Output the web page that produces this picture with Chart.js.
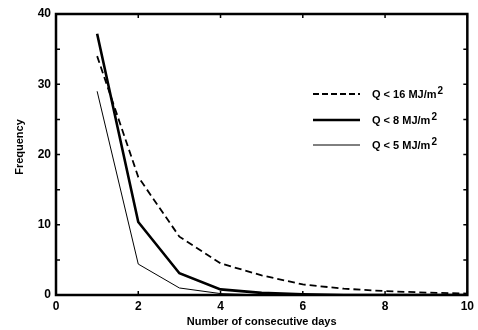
<!DOCTYPE html>
<html>
<head>
<meta charset="utf-8">
<script src="https://cdn.jsdelivr.net/npm/chart.js@4/dist/chart.umd.min.js"></script>
<style>
html,body{margin:0;padding:0;background:#fff;}
#c{display:block;}
</style>
</head>
<body>
<canvas id="c" width="478" height="330"></canvas>
<script>
const days = [1, 2, 3, 4, 5, 6, 7, 8, 9, 10];
const q16 = [34.0, 16.8, 8.3, 4.5, 2.8, 1.5, 0.9, 0.55, 0.35, 0.2];
const q8  = [37.2, 10.4, 3.1, 0.8, 0.3, 0.1, 0, 0, 0, 0];
const q5  = [29.0, 4.4, 1.0, 0.2, 0, 0, 0, 0, 0, 0];
const seriesNames = ['Q < 16 MJ/m', 'Q < 8 MJ/m', 'Q < 5 MJ/m'];
const xTicks = [0, 2, 4, 6, 8, 10];
const yTicks = [0, 10, 20, 30, 40];
const yMinor = [5, 15, 25, 35];
const xTitle = 'Number of consecutive days';
const yTitle = 'Frequency';

const FONT = '"Liberation Sans", Arial, sans-serif';
const pts = arr => days.map((d, i) => ({x: d, y: arr[i]}));

const styles = [
  {borderWidth: 1.8, borderDash: [7, 4]},
  {borderWidth: 2.6, borderDash: []},
  {borderWidth: 1, borderDash: []}
];

const framePlugin = {
  id: 'frame',
  afterDraw(chart) {
    const ctx = chart.ctx;
    const a = chart.chartArea;
    const xs = chart.scales.x, ys = chart.scales.y;
    ctx.save();
    ctx.strokeStyle = '#000';
    ctx.lineWidth = 2.5;
    ctx.strokeRect(a.left, a.top, a.right - a.left, a.bottom - a.top);
    ctx.lineWidth = 1.5;
    const L = 4;
    ctx.beginPath();
    xTicks.forEach(v => {
      const px = xs.getPixelForValue(v);
      ctx.moveTo(px, a.bottom); ctx.lineTo(px, a.bottom - L);
      ctx.moveTo(px, a.top); ctx.lineTo(px, a.top + L);
    });
    yTicks.concat(yMinor).forEach(v => {
      const py = ys.getPixelForValue(v);
      ctx.moveTo(a.left, py); ctx.lineTo(a.left + L, py);
      ctx.moveTo(a.right, py); ctx.lineTo(a.right - L, py);
    });
    ctx.stroke();

    // axis titles
    ctx.fillStyle = '#000';
    ctx.font = 'bold 11px ' + FONT;
    ctx.textAlign = 'center';
    ctx.textBaseline = 'middle';
    ctx.fillText(xTitle, (a.left + a.right) / 2, 322);
    ctx.save();
    ctx.translate(20, 147);
    ctx.rotate(-Math.PI / 2);
    ctx.fillText(yTitle, 0, 0);
    ctx.restore();

    // legend
    const rows = [94, 120, 145];
    chart.data.datasets.forEach((ds, i) => {
      const y = rows[i];
      ctx.beginPath();
      ctx.lineWidth = ds.borderWidth;
      ctx.setLineDash(i === 0 ? [6, 3] : []);
      ctx.moveTo(313, y); ctx.lineTo(360, y);
      ctx.stroke();
      ctx.setLineDash([]);
      ctx.textAlign = 'left';
      ctx.textBaseline = 'middle';
      ctx.font = 'bold 11px ' + FONT;
      const t = seriesNames[i];
      ctx.fillText(t, 372, y + 1);
      const w = ctx.measureText(t).width;
      ctx.font = 'bold 10px ' + FONT;
      ctx.fillText('2', 372 + w + 1, y - 3);
    });
    ctx.restore();
  }
};

new Chart(document.getElementById('c'), {
  type: 'line',
  data: {
    datasets: [q16, q8, q5].map((arr, i) => ({
      label: seriesNames[i] + '2',
      data: pts(arr),
      borderColor: '#000',
      backgroundColor: '#000',
      borderWidth: styles[i].borderWidth,
      borderDash: styles[i].borderDash,
      pointRadius: 0,
      tension: 0,
      fill: false
    }))
  },
  options: {
    responsive: false,
    animation: false,
    devicePixelRatio: 1,
    layout: {padding: {top: 14, right: 8, left: 0, bottom: 0}},
    plugins: {legend: {display: false}, tooltip: {enabled: false}},
    scales: {
      x: {
        type: 'linear', min: 0, max: 10,
        grid: {display: false, drawTicks: false},
        border: {display: false},
        ticks: {stepSize: 2, padding: 4, color: '#000', font: {family: FONT, size: 12, weight: 'bold'}, maxRotation: 0},
        afterFit(s) { s.height = 35; }
      },
      y: {
        type: 'linear', min: 0, max: 40,
        grid: {display: false, drawTicks: false},
        border: {display: false},
        ticks: {stepSize: 10, padding: 5, color: '#000', font: {family: FONT, size: 12, weight: 'bold'}},
        afterFit(s) { s.width = 56; }
      }
    }
  },
  plugins: [framePlugin]
});
</script>
</body>
</html>
